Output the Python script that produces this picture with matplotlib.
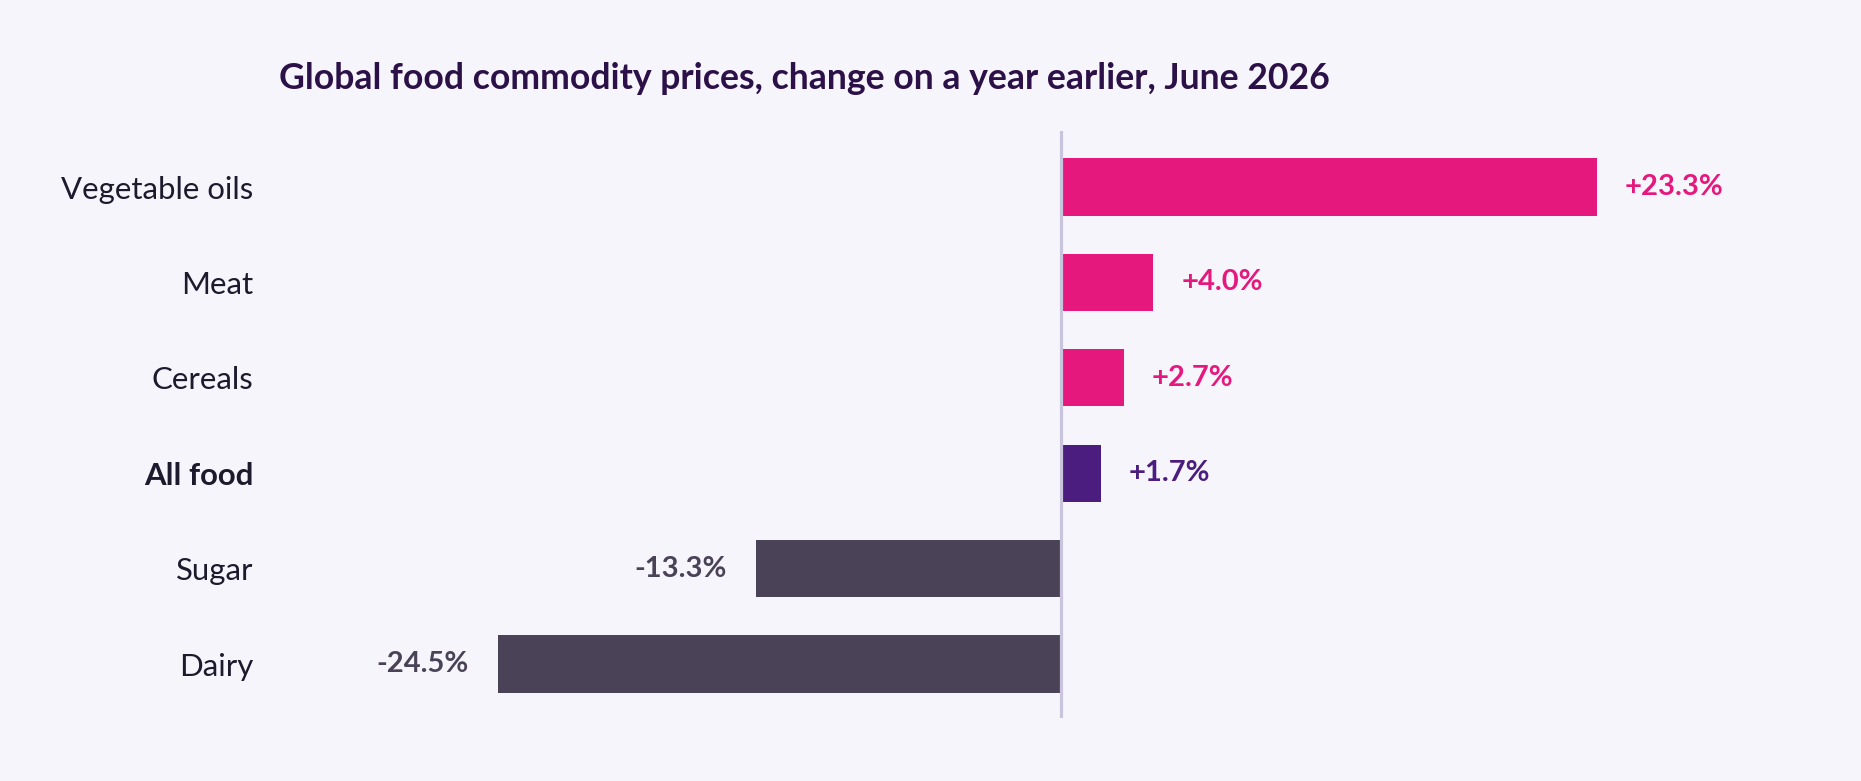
import matplotlib
matplotlib.use("Agg")
import matplotlib.pyplot as plt

plt.rcParams['font.family'] = ['Lato', 'DejaVu Sans']

categories = ["Vegetable oils", "Meat", "Cereals", "All food", "Sugar", "Dairy"]
values = [23.3, 4.0, 2.7, 1.7, -13.3, -24.5]
labels = ["+23.3%", "+4.0%", "+2.7%", "+1.7%", "-13.3%", "-24.5%"]
title = "Global food commodity prices, change on a year earlier, June 2026"

BG = "#F7F5FC"
PINK = "#E5197D"
PURPLE = "#4B1D7E"
DARK = "#4A4358"
TITLE_C = "#2B1148"
LABEL_C = "#1C1A2C"
AXIS_C = "#C8C4DE"

W, H = 1861, 781
fig = plt.figure(figsize=(W / 100, H / 100), dpi=100, facecolor=BG)
ax = fig.add_axes([270 / W, (H - 718) / H, (1840 - 270) / W, (718 - 131) / H])
ax.set_facecolor(BG)

colors = []
for c, v in zip(categories, values):
    if c == "All food":
        colors.append(PURPLE)
    elif v >= 0:
        colors.append(PINK)
    else:
        colors.append(DARK)

ypos = list(range(len(categories)))
ax.barh(ypos, values, height=0.6, color=colors, zorder=2)
ax.axvline(0, color=AXIS_C, lw=2.3, zorder=3)

for y, v, lab, col in zip(ypos, values, labels, colors):
    if v >= 0:
        ax.annotate(lab, (v, y), xytext=(20, 0), textcoords="offset points",
                    ha="left", va="center", fontsize=21, fontweight="bold", color=col)
    else:
        ax.annotate(lab, (v, y), xytext=(-21, 0), textcoords="offset points",
                    ha="right", va="center", fontsize=21, fontweight="bold", color=col)

ax.set_xlim(-34.41, 33.85)
ax.set_ylim(5.566, -0.587)
ax.set_yticks(ypos)
ax.set_yticklabels(categories, fontsize=22.4, color=LABEL_C)
for t in ax.get_yticklabels():
    if t.get_text() == "All food":
        t.set_fontweight("bold")
ax.tick_params(axis="y", length=0, pad=12)
ax.set_xticks([])
for s in ax.spines.values():
    s.set_visible(False)

fig.text(279 / W, 1 - 89 / H, title, fontsize=25.7, fontweight="bold",
         color=TITLE_C, ha="left", va="baseline")

fig.savefig("out.png", dpi=100, facecolor=BG)
